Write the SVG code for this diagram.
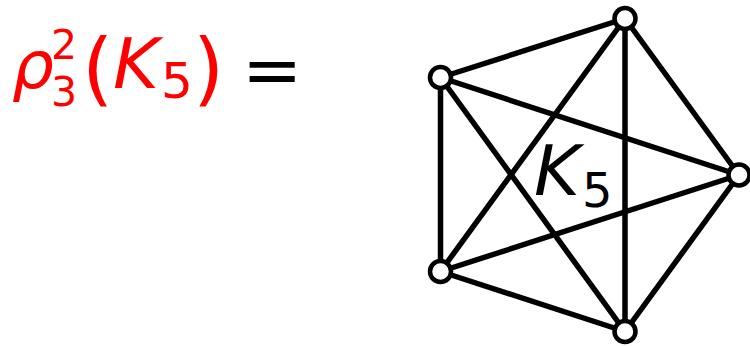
<svg xmlns="http://www.w3.org/2000/svg" width="750" height="346" viewBox="0 0 750 346">
<style>
.f{font-family:"DejaVu Sans",sans-serif;}
.r{fill:#ff0000;}
.it{font-style:italic;}
.edge{stroke:#000;stroke-width:5.5;stroke-linecap:round;}
.node{fill:#fff;stroke:#000;stroke-width:4.5;}
</style>
<rect width="750" height="346" fill="#fff"/>
<g id="formula">
<text class="f r it" x="12" y="88" font-size="66">ρ</text>
<text class="f r" x="51" y="59" font-size="41">2</text>
<text class="f r" x="51" y="106" font-size="41">3</text>
<text class="f r" x="82" y="96" font-size="80">(</text>
<text class="f r it" x="113" y="88" font-size="70">K</text>
<text class="f r" x="161" y="98" font-size="50">5</text>
<text class="f r" x="193" y="96" font-size="80">)</text>
<text class="f" x="242" y="94" font-size="72" fill="#000">=</text>
</g>
<g id="connectors">
<line class="edge" x1="440.5" y1="77.5" x2="625" y2="18.5"/>
<line class="edge" x1="440.5" y1="77.5" x2="739" y2="175"/>
<line class="edge" x1="440.5" y1="77.5" x2="440.5" y2="271.5"/>
<line class="edge" x1="440.5" y1="77.5" x2="625" y2="331.5"/>
<line class="edge" x1="625" y1="18.5" x2="739" y2="175"/>
<line class="edge" x1="625" y1="18.5" x2="440.5" y2="271.5"/>
<line class="edge" x1="625" y1="18.5" x2="625" y2="331.5"/>
<line class="edge" x1="739" y1="175" x2="440.5" y2="271.5"/>
<line class="edge" x1="739" y1="175" x2="625" y2="331.5"/>
<line class="edge" x1="440.5" y1="271.5" x2="625" y2="331.5"/>
</g>
<g id="label">
<text class="f it" x="534" y="195" font-size="70" fill="#000">K</text>
<text class="f" x="582" y="207" font-size="48" fill="#000">5</text>
</g>
<g id="n1"><circle class="node" cx="440.5" cy="77.5" r="10.5"/></g>
<g id="n2"><circle class="node" cx="625" cy="18.5" r="10.5"/></g>
<g id="n3"><circle class="node" cx="739" cy="175" r="10.5"/></g>
<g id="n4"><circle class="node" cx="440.5" cy="271.5" r="10.5"/></g>
<g id="n5"><circle class="node" cx="625" cy="331.5" r="10.5"/></g>
</svg>
